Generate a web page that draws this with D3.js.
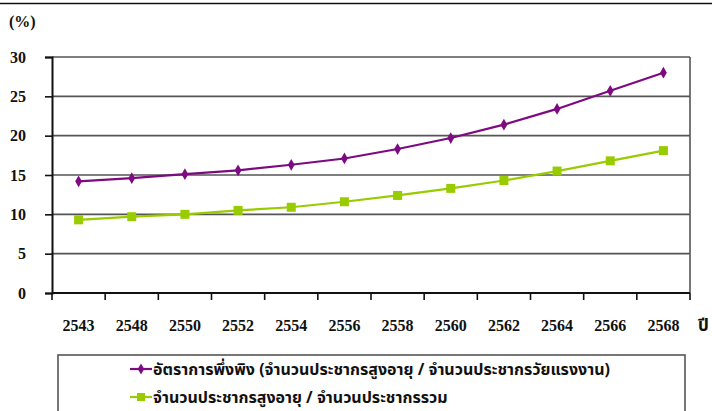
<!DOCTYPE html>
<meta charset="utf-8">
<style>
body { margin: 0; background: #fff; }
svg { display: block; }
.num { font-family: "Liberation Serif", "Times New Roman", serif; font-weight: bold; font-size: 16px; fill: #111; }
.thai { font-family: "Noto Sans Thai", "Noto Sans", "DejaVu Sans", sans-serif; font-weight: bold; font-size: 16px; fill: #111; }
.grid line { stroke: #555; stroke-width: 1.6; }
</style>
<svg id="chart" width="712" height="411"></svg>
<script src="https://cdn.jsdelivr.net/npm/d3@7/dist/d3.min.js"></script>
<script>
// years (Thai Buddhist era) and the two ratios, in percent
var years = ["2543", "2548", "2550", "2552", "2554", "2556", "2558", "2560", "2562", "2564", "2566", "2568"];
var dependency = [14.2, 14.6, 15.1, 15.6, 16.3, 17.1, 18.3, 19.7, 21.4, 23.4, 25.7, 28.0];
var elderlyShare = [9.3, 9.7, 10.0, 10.5, 10.9, 11.6, 12.4, 13.3, 14.3, 15.5, 16.8, 18.1];
var yTicks = [0, 5, 10, 15, 20, 25, 30];
var seriesNames = [
  "อัตราการพึ่งพิง (จำนวนประชากรสูงอายุ / จำนวนประชากรวัยแรงงาน)",
  "จำนวนประชากรสูงอายุ / จำนวนประชากรรวม"
];

var svg = d3.select("#chart");
var plotL = 52, plotR = 690, plotT = 57, plotB = 293;

var x = d3.scaleBand().domain(years).range([plotL, plotR]);
var y = d3.scaleLinear().domain([0, 30]).range([plotB, plotT]);

// clipped line at the very top of the page
svg.append("line").attr("x1", 0).attr("x2", 712).attr("y1", 3.5).attr("y2", 3.5)
  .attr("stroke", "#111").attr("stroke-width", 1.5);

// gridlines
svg.append("g").attr("class", "grid")
  .selectAll("line").data(yTicks.filter(function(d) { return d > 0; }))
  .enter().append("line")
    .attr("x1", plotL).attr("x2", plotR)
    .attr("y1", function(d) { return y(d); }).attr("y2", function(d) { return y(d); });

// right border of plot
svg.append("line").attr("x1", plotR).attr("x2", plotR).attr("y1", plotT).attr("y2", plotB)
  .attr("stroke", "#555").attr("stroke-width", 1.6);

// y axis
var yAxis = svg.append("g").attr("transform", "translate(" + plotL + ",0)")
  .call(d3.axisLeft(y).tickValues(yTicks).tickSize(7).tickPadding(19).tickFormat(d3.format("d")));
yAxis.select(".domain").attr("stroke", "#111").attr("stroke-width", 2);
yAxis.selectAll(".tick line").attr("stroke", "#111").attr("stroke-width", 1.6);
yAxis.selectAll("text").attr("class", "num").attr("text-anchor", "end");

// x axis, ticks sit between categories
var xAxis = svg.append("g").attr("transform", "translate(0," + plotB + ")");
xAxis.append("line").attr("x1", plotL).attr("x2", plotR).attr("stroke", "#111").attr("stroke-width", 2);
xAxis.selectAll(".xt").data(years.concat(["end"]))
  .enter().append("line")
    .attr("x1", function(d, i) { return plotL + i * x.bandwidth(); })
    .attr("x2", function(d, i) { return plotL + i * x.bandwidth(); })
    .attr("y1", 0).attr("y2", 7)
    .attr("stroke", "#111").attr("stroke-width", 1.6);
xAxis.selectAll(".xl").data(years)
  .enter().append("text")
    .attr("class", "num")
    .attr("x", function(d) { return x(d) + x.bandwidth() / 2; })
    .attr("y", 38)
    .attr("text-anchor", "middle")
    .text(function(d) { return d; });

svg.append("text").attr("class", "thai").attr("x", 698).attr("y", plotB + 38).style("font-size", "17px").text("ปี");
svg.append("text").attr("class", "num").attr("x", 9).attr("y", 27).text("(%)");

// series
var line = d3.line()
  .x(function(d, i) { return x(years[i]) + x.bandwidth() / 2; })
  .y(function(d) { return y(d); });

var purple = "#7d0a80", green = "#99cc00";

svg.append("path").datum(dependency).attr("d", line)
  .attr("fill", "none").attr("stroke", purple).attr("stroke-width", 2.2);
svg.selectAll(".dia").data(dependency).enter().append("path")
  .attr("d", d3.symbol().type(d3.symbolDiamond).size(40))
  .attr("transform", function(d, i) { return "translate(" + (x(years[i]) + x.bandwidth() / 2) + "," + y(d) + ")"; })
  .attr("fill", purple);

svg.append("path").datum(elderlyShare).attr("d", line)
  .attr("fill", "none").attr("stroke", green).attr("stroke-width", 2.2);
svg.selectAll(".sq").data(elderlyShare).enter().append("rect")
  .attr("x", function(d, i) { return x(years[i]) + x.bandwidth() / 2 - 4.5; })
  .attr("y", function(d) { return y(d) - 4.5; })
  .attr("width", 9).attr("height", 9)
  .attr("fill", green);

// legend box (runs off the bottom of the picture)
var legend = svg.append("g");
legend.append("rect").attr("x", 58).attr("y", 355).attr("width", 627).attr("height", 80)
  .attr("fill", "#fff").attr("stroke", "#555").attr("stroke-width", 1.6);

var lg = legend.selectAll(".item").data(seriesNames).enter().append("g")
  .attr("transform", function(d, i) { return "translate(130," + (369 + i * 28) + ")"; });
lg.append("line").attr("x1", 0).attr("x2", 22)
  .attr("stroke", function(d, i) { return i ? green : purple; }).attr("stroke-width", 2.2);
lg.each(function(d, i) {
  var g = d3.select(this);
  if (i) g.append("rect").attr("x", 7).attr("y", -4).attr("width", 8).attr("height", 8).attr("fill", green);
  else g.append("path").attr("d", d3.symbol().type(d3.symbolDiamond).size(36)).attr("transform", "translate(11,0)").attr("fill", purple);
});
lg.append("text").attr("class", "thai").attr("x", 23).attr("dy", "0.35em").text(function(d) { return d; });
</script>
